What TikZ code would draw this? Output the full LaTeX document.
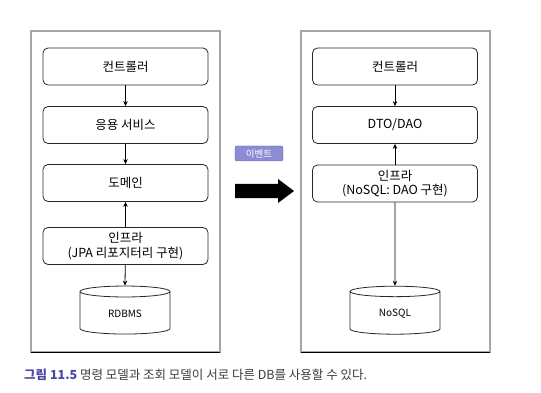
\documentclass[tikz,border=0pt]{standalone}
\usepackage{fontspec}
\setmainfont{Noto Sans CJK KR}
\usetikzlibrary{arrows.meta,positioning,shapes.geometric}
\definecolor{framegray}{RGB}{165,165,165}
\definecolor{boxline}{RGB}{40,40,40}
\definecolor{eventfill}{RGB}{140,140,212}
\definecolor{eventline}{RGB}{95,95,170}
\definecolor{capblue}{RGB}{72,72,168}
\definecolor{captext}{RGB}{60,60,60}

\begin{document}
\begin{tikzpicture}[x=1pt,y=-1pt,
    layer/.style={draw=boxline, line width=0.8pt, fill=white, rounded corners=5pt, minimum width=165pt,
      minimum height=37pt, inner sep=1pt, align=center, font=\fontsize{12.5}{14.5}\selectfont},
    dbstore/.style={cylinder, shape border rotate=90, draw=boxline, line width=0.8pt, aspect=0.27,
      minimum width=90pt, minimum height=48pt, font=\fontsize{10}{12}\selectfont},
    flow/.style={-{Stealth[length=5pt,width=4.5pt]}, line width=0.8pt}]
  \useasboundingbox (0,0) rectangle (541,393);
  % the two panels
  \draw[framegray, line width=1.3pt] (31,31) rectangle (220,352);
  \draw[black, line width=1pt] (31,352) -- (220,352);
  \draw[framegray, line width=1.3pt] (301,31) rectangle (490,352);
  \draw[black, line width=1pt] (301,352) -- (490,352);

  % left side: one model
  \node[layer] (ctrlL) at (125.5,66.5) {컨트롤러};
  \node[layer] (svcL) at (125.5,125) {응용 서비스};
  \node[layer] (domL) at (125.5,183) {도메인};
  \node[layer] (infraL) at (125.5,246) {인프라\\(JPA 리포지터리 구현)};
  \node[dbstore] (rdbms) at (125,314) {RDBMS};
  \draw[flow] (ctrlL) -- (svcL);
  \draw[flow] (svcL) -- (domL);
  \draw[flow] (infraL) -- (domL);
  \draw[flow] (infraL) -- (rdbms.north);

  % event in between
  \node[draw=eventline, fill=eventfill, rounded corners=2pt, minimum width=48pt,
    minimum height=15pt, inner sep=1pt, text=white, font=\fontsize{9.5}{10}\selectfont]
    (event) at (259,153.5) {이벤트};
  \fill[black] (235,184) -- (278,184) -- (278,179) -- (294,191) -- (278,203)
    -- (278,198) -- (235,198) -- cycle;

  % right side: query model
  \node[layer] (ctrlR) at (395,66.5) {컨트롤러};
  \node[layer] (dtoR) at (395,125) {DTO/DAO};
  \node[layer] (infraR) at (395,183.5) {인프라\\(NoSQL: DAO 구현)};
  \node[dbstore] (nosql) at (395,314) {NoSQL};
  \draw[flow] (ctrlR) -- (dtoR);
  \draw[flow] (infraR) -- (dtoR);
  \draw[flow] (infraR) -- (nosql.north);

  % caption
  \node[anchor=west, inner sep=0pt, font=\fontsize{12.5}{14}\selectfont] (cap) at (24,375)
    {\textcolor{capblue}{\bfseries 그림 11.5} \textcolor{captext}{명령 모델과 조회 모델이 서로 다른 DB를 사용할 수 있다.}};
\end{tikzpicture}
\end{document}
